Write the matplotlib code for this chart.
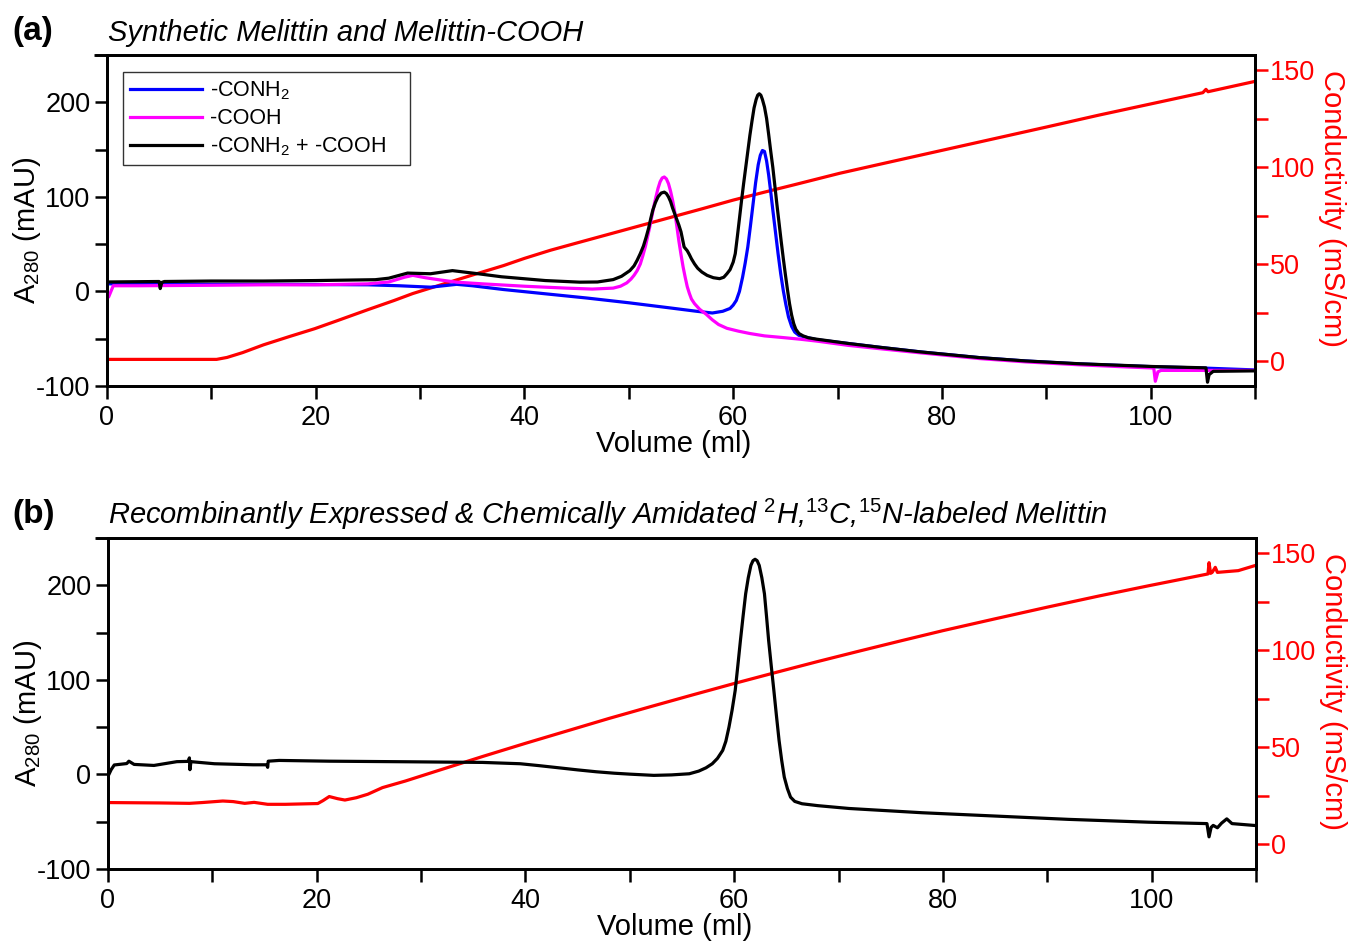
import matplotlib
matplotlib.use("Agg")
import matplotlib.pyplot as plt
from matplotlib.lines import Line2D
from matplotlib.ticker import MultipleLocator

plt.rcParams['font.family'] = ['Liberation Sans', 'DejaVu Sans']
plt.rcParams['mathtext.fontset'] = 'custom'
plt.rcParams['mathtext.rm'] = 'Liberation Sans'
plt.rcParams['mathtext.it'] = 'Liberation Sans:italic'
plt.rcParams['mathtext.bf'] = 'Liberation Sans:bold'
plt.rcParams['axes.unicode_minus'] = False

# ---------------- Panel (a) data ----------------
a_conh2_x = [0, 0.3, 5, 10, 15, 20, 25, 28, 31, 33.5, 35, 38, 42, 46, 50, 54, 56.5, 58, 59, 59.7,
             60.0, 60.3, 60.6, 60.9, 61.15, 61.4, 61.65, 61.9, 62.15, 62.4, 62.6, 62.8, 63.0, 63.2,
             63.4, 63.6, 63.8, 64.05, 64.3, 64.55, 64.8, 65.05, 65.3, 65.6, 65.9, 66.3, 67, 68,
             71, 74, 78, 83.6, 88, 93, 100, 105, 110]
a_conh2_y = [8, 8, 7.8, 7.5, 7.5, 7.3, 7, 6, 4.5, 7.5, 6, 2, -2.5, -7, -12, -17.5, -21, -22.8, -21, -18,
             -14.5, -9.5, 0, 15, 30, 47, 69, 92, 115, 134, 144, 149, 148, 138,
             123, 105, 86, 63, 40, 19, 1, -14, -27, -37, -43, -46.5, -48.5, -51,
             -55, -59, -64, -70, -73.5, -76.5, -79.5, -81, -83]

a_cooh_x = [0, 0.15, 0.6, 3, 10, 15, 20, 25, 27, 28.5, 29.3, 30.5, 32, 33.5, 36, 40, 44, 46.5, 48.5,
            49.2, 49.8, 50.2, 50.5, 50.8, 51.1, 51.35, 51.6, 51.8, 52.0, 52.2, 52.4, 52.6, 52.8,
            53.0, 53.2, 53.4, 53.6, 53.8, 54.0, 54.2, 54.4, 54.6, 54.8, 55.0, 55.2, 55.4, 55.6,
            55.8, 56.0, 56.3, 56.8, 57.4, 58.0, 58.6, 59.4, 60.5, 61.6, 63, 64.5, 66.4, 68, 71, 74,
            78, 83.6, 88, 93, 98, 100.3, 100.45, 100.7, 101, 105, 110]
a_cooh_y = [-3, -6, 6, 6, 6.5, 7, 7, 8, 10, 15, 17, 14.5, 12, 9.8, 8, 5.5, 3.5, 2.5, 3.5,
            5.5, 9, 13, 17, 22, 29, 38, 48, 58, 68, 79, 90, 100, 109,
            116, 120, 121, 119, 114, 106, 96, 84, 69, 53, 39, 26, 15, 5,
            -2, -8, -13, -19, -24, -30, -35, -39, -42, -44.5, -47, -48.5, -50.5, -52.5, -57, -60.5,
            -65, -71, -74.5, -77.5, -80, -81, -95, -85, -83.5, -83.5, -83.5]

a_both_x = [0, 5, 5.1, 5.25, 5.5, 10, 15, 20, 25.7, 27, 28.8, 31, 33.1, 35.7, 37.8, 42, 45.3, 47,
            48.5, 49.3, 50.1, 50.5, 50.8, 51.1, 51.4, 51.65, 51.9, 52.1, 52.3, 52.55, 52.8, 53.1,
            53.4, 53.6, 53.8, 54.0, 54.2, 54.4, 54.6, 54.8, 55.0, 55.15, 55.3, 55.45, 55.6, 55.8,
            56.0, 56.3, 56.6, 57.0, 57.5, 58.1, 58.7, 59.1, 59.4, 59.7, 60.0, 60.2, 60.4, 60.6,
            60.8, 61.0, 61.2, 61.4, 61.6, 61.8, 62.0, 62.2, 62.35, 62.5, 62.65, 62.8, 63.0, 63.2,
            63.4, 63.6, 63.8, 64.0, 64.2, 64.4, 64.6, 64.8, 65.0, 65.2, 65.4, 65.6, 65.8, 66.0,
            66.3, 66.7, 67.2, 68, 71, 74, 78, 83.6, 88, 93.2, 100.2, 105.3, 105.45, 105.6, 106, 110]
a_both_y = [10, 10.5, 3, 9.5, 10.5, 11, 11, 11.5, 12.4, 14, 19.4, 18.7, 22, 18.5, 15.5, 11.5, 9.8, 10,
            12.5, 16, 22, 27, 33, 40, 48, 57, 67, 77, 86, 94, 100, 104,
            105, 103.5, 100, 95, 88, 82, 76, 70, 63, 55, 47, 45, 43, 39,
            34.5, 29, 24.5, 20.5, 17, 14.5, 13.5, 15, 18.7, 23, 31, 40, 58, 77,
            96, 114, 131, 148, 165, 180, 194, 203, 207.5, 209, 207.5, 203, 195, 183,
            166, 148, 131, 111, 91, 72, 53, 35, 18, 2, -13, -25, -34, -40,
            -44.5, -47, -49, -50.5, -55, -59, -64, -70, -73.5, -76.5, -79.4, -80.8, -96, -88, -84.5, -84]

a_cond_x = [0, 5, 10.5, 11.5, 13, 15, 17.5, 19.9, 22, 25, 27.5, 29.3, 32, 35, 38, 40, 42.5, 45, 48,
            51, 54, 57, 60, 63, 66, 70.2, 75, 80, 85, 90, 95, 100, 105, 105.3, 105.5, 109.9]
a_cond_y = [1, 1, 1, 2, 4.5, 8.5, 12.8, 16.8, 20.8, 26.6, 31.3, 34.9, 39.4, 44.4, 49.3, 53.0, 57.2,
            60.9, 65.3, 69.7, 74.1, 78.5, 83.0, 87.1, 91.1, 96.8, 102.6, 108.6, 114.6, 120.6,
            126.7, 132.5, 138.3, 140, 138.8, 144]

# ---------------- Panel (b) data ----------------
b_abs_x = [0, 0.3, 0.6, 1.8, 2.0, 2.5, 4.4, 6.6, 7.7, 7.8, 7.85, 7.95, 10.2, 13.9, 15.2, 15.3, 15.35,
           16.4, 21.2, 28.5, 35.9, 39.5, 41.3, 43.2, 45, 46.8, 48.5, 50, 52.3, 54, 55.7, 56.6,
           57.3, 57.9, 58.4, 58.9, 59.2, 59.5, 59.8, 60.1, 60.35, 60.6, 60.85, 61.1, 61.35, 61.6,
           61.8, 62.0, 62.2, 62.4, 62.65, 62.9, 63.1, 63.3, 63.55, 63.8, 64.05, 64.3, 64.55, 64.8,
           65.1, 65.4, 65.8, 66.5, 68, 71, 78, 85, 92, 99.7, 105.3, 105.5, 105.7, 105.9, 106.3,
           106.7, 107.2, 107.7, 109.9]
b_abs_y = [-2, 5, 10, 11.5, 14, 10.6, 9.5, 13.5, 13.8, 17.5, 5, 13.5, 11.3, 10.2, 10.2, 7.5, 14,
           14.8, 14, 13.4, 12.7, 11.3, 9.3, 7, 4.8, 2.8, 1.3, 0.3, -1, -0.5, 0.7, 3.5,
           7, 11.3, 17, 25.4, 35, 50, 68, 89, 115, 141.8, 167, 191, 208, 221,
           226, 227.5, 226, 221, 208, 191, 167, 141.8, 115, 89, 62, 36, 15, -2.8,
           -15, -24, -28.5, -31, -33, -36, -40.5, -44, -47.5, -50.5, -52, -66, -56, -53.9, -56.4,
           -51.5, -47, -52, -54]

b_cond_x = [0, 5, 7.8, 9, 11, 12, 13.1, 14, 15.3, 17, 20.1, 20.6, 21.2, 22, 22.7, 23.8, 24.9, 26.3,
            28.5, 32, 36, 40, 44, 48, 52, 56, 60, 64, 68, 72, 76, 80, 85, 90, 95, 99.7, 105.4,
            105.5, 105.65, 105.8, 106.1, 106.3, 108.3, 109.9]
b_cond_y = [21.5, 21.3, 21.1, 21.5, 22.3, 22, 21.1, 21.6, 20.6, 20.6, 21, 22.5, 24.6, 23.5, 22.8, 24,
            25.8, 29.2, 32.6, 38.6, 45.4, 52.0, 58.4, 64.8, 70.9, 76.9, 82.8, 88.5, 94.1, 99.5,
            104.8, 110, 116.1, 122.1, 127.9, 133.1, 139.2, 145, 139.5, 140, 142.6, 140, 140.9, 143.5]

x_ticks = [0, 20, 40, 60, 80, 100]
abs_ticks = [-100, 0, 100, 200]
cond_ticks = [0, 50, 100, 150]
legend_labels = ['-CONH$_2$', '-COOH', '-CONH$_2$ + -COOH']

W, H = 1349, 941
fig = plt.figure(figsize=(W / 100, H / 100), dpi=100)

TICK_FS = 19.5
LAB_FS = 21
LW = 2.3


def style_axes(ax, ax2):
    ax.set_xlim(0, 110)
    ax.set_ylim(-100, 250)
    ax2.set_ylim(-12.7, 157.7)
    ax.set_xticks(x_ticks)
    ax.xaxis.set_minor_locator(MultipleLocator(10))
    ax.set_yticks(abs_ticks)
    ax.yaxis.set_minor_locator(MultipleLocator(50))
    ax2.set_yticks(cond_ticks)
    ax2.yaxis.set_minor_locator(MultipleLocator(25))
    for a in (ax, ax2):
        for s in a.spines.values():
            s.set_linewidth(2.0)
            s.set_color('black')
    ax.tick_params(axis='both', which='both', direction='out', length=9, width=1.8,
                   labelsize=TICK_FS, color='black')
    ax.tick_params(axis='x', which='major', pad=5)
    ax.tick_params(axis='y', which='major', pad=3)
    ax2.tick_params(axis='y', which='both', direction='out', length=9, width=1.8,
                    labelsize=TICK_FS, colors='red', pad=2)
    ax.set_xlabel('Volume (ml)', fontsize=LAB_FS)
    ax.xaxis.set_label_coords(0.494, -0.133)
    ax.set_ylabel('A$_{280}$ (mAU)', fontsize=LAB_FS)
    ax.yaxis.set_label_coords(-0.056, 0.47)
    ax2.set_ylabel('Conductivity (mS/cm)', fontsize=LAB_FS, color='red', rotation=270)
    ax2.yaxis.set_label_coords(1.079, 0.535)
    # top spine extending slightly left of the y axis
    pos = ax.get_position()
    fig.add_artist(Line2D([pos.x0 - 13 / W, pos.x0], [pos.y1, pos.y1], transform=fig.transFigure,
                          color='black', lw=2.0, solid_capstyle='butt'))


# Panel (a)
axA = fig.add_axes([107 / W, 1 - 386 / H, (1255 - 107) / W, (386 - 55) / H])
axA2 = axA.twinx()
axA2.plot(a_cond_x, a_cond_y, color='#ff0000', lw=LW, zorder=1)
axA.set_zorder(axA2.get_zorder() + 1)
axA.patch.set_visible(False)
l1, = axA.plot(a_conh2_x, a_conh2_y, color='#0000ff', lw=LW)
l2, = axA.plot(a_cooh_x, a_cooh_y, color='#ff00ff', lw=LW)
l3, = axA.plot(a_both_x, a_both_y, color='black', lw=LW)
style_axes(axA, axA2)
leg = axA.legend([l1, l2, l3], legend_labels, loc='upper left',
                 bbox_to_anchor=(0.0139, 0.0, 0.25, 0.9486), mode='expand',
                 borderaxespad=0, fontsize=15.5, frameon=True, fancybox=False, framealpha=1,
                 edgecolor='#333333', handlelength=3.3, handletextpad=0.4, labelspacing=0.28,
                 borderpad=0.35)
leg.get_frame().set_linewidth(1.0)

# Panel (b)
axB = fig.add_axes([108 / W, 1 - 869 / H, (1256 - 108) / W, (869 - 538) / H])
axB2 = axB.twinx()
axB2.plot(b_cond_x, b_cond_y, color='#ff0000', lw=LW, zorder=1)
axB.set_zorder(axB2.get_zorder() + 1)
axB.patch.set_visible(False)
axB.plot(b_abs_x, b_abs_y, color='black', lw=LW)
style_axes(axB, axB2)

# Panel labels and titles
fig.text(12 / W, 1 - 40 / H, '(a)', fontsize=24, fontweight='bold', va='baseline', ha='left')
fig.text(108 / W, 1 - 41 / H, 'Synthetic Melittin and Melittin-COOH', fontsize=21,
         style='italic', va='baseline', ha='left')
fig.text(12 / W, 1 - 523 / H, '(b)', fontsize=24, fontweight='bold', va='baseline', ha='left')
fig.text(108 / W, 1 - 524 / H,
         r'Recombinantly Expressed & Chemically Amidated $^{\mathit{2}}$H,$^{\mathit{13}}$C,'
         r'$^{\mathit{15}}$N-labeled Melittin',
         fontsize=21, style='italic', va='baseline', ha='left')

fig.savefig('out.png', dpi=100)
